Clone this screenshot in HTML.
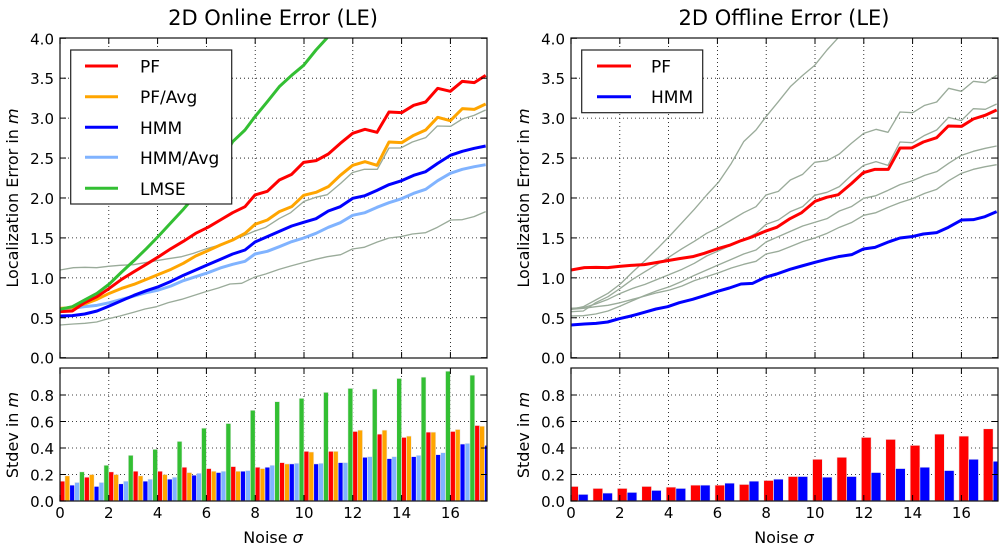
<!DOCTYPE html>
<html><head><meta charset="utf-8"><style>
body{margin:0;background:#fff}
svg{display:block;font-family:"DejaVu Sans","Liberation Sans",sans-serif}
</style></head><body>
<svg id="s" width="999" height="550" viewBox="0 0 999 550" xmlns="http://www.w3.org/2000/svg">
<defs>
<clipPath id="cL"><rect x="60" y="38" width="427" height="320"/></clipPath>
<clipPath id="cR"><rect x="571" y="38" width="427" height="320"/></clipPath>
<clipPath id="bL"><rect x="60" y="368" width="427" height="133"/></clipPath>
<clipPath id="bR"><rect x="571" y="368" width="427" height="133"/></clipPath>
</defs>
<g id="root"></g>
</svg>
<script>
var root=document.getElementById("root");
var H="";
function P(a){return a.map(function(p){return p[0]+","+p[1]}).join(" ")}
var red=[[15,845],[52,843],[89,818],[126,800],[163,775],[200,748],[237,725],[274,703],[311,680],[348,656],[385,634],[422,610],[459,592],[496,570],[533,548],[570,530],[600,495],[637,484],[673,450],[710,433],[746,397],[783,392],[820,372],[856,340],[893,310],[930,298],[966,307],[1002,246],[1040,248],[1076,226],[1112,216],[1148,175],[1186,184],[1222,154],[1258,158],[1292,136]];
var org=[[15,835],[52,833],[89,822],[126,808],[163,790],[200,775],[237,763],[274,748],[311,733],[348,718],[385,700],[422,678],[459,662],[496,645],[533,630],[570,610],[600,583],[637,570],[673,545],[710,530],[746,496],[783,487],[820,470],[856,436],[893,406],[930,395],[966,406],[1002,336],[1040,338],[1076,316],[1112,300],[1148,262],[1186,272],[1222,236],[1258,238],[1292,222]];
var blu=[[15,858],[52,857],[89,852],[126,843],[163,828],[200,812],[237,796],[274,782],[311,770],[348,754],[385,736],[422,720],[459,704],[496,688],[533,672],[570,660],[600,636],[637,620],[673,604],[710,588],[746,577],[783,566],[820,543],[856,530],[893,505],[930,497],[966,481],[1002,464],[1040,452],[1076,436],[1112,425],[1148,400],[1186,376],[1222,364],[1258,355],[1292,348]];
var lbl=[[15,838],[52,835],[89,830],[126,826],[163,818],[200,808],[237,798],[274,788],[311,780],[348,768],[385,752],[422,740],[459,728],[496,714],[533,703],[570,694],[600,672],[637,664],[673,650],[710,635],[746,624],[783,610],[820,592],[856,578],[893,556],[930,548],[966,532],[1002,518],[1040,506],[1076,490],[1112,478],[1148,452],[1186,430],[1222,418],[1258,410],[1292,404]];
var grn=[[15,838],[52,830],[89,810],[126,790],[163,762],[200,726],[237,692],[274,656],[311,618],[348,578],[385,538],[422,495],[459,455],[496,400],[533,335],[570,300],[600,260],[637,215],[673,170],[710,136],[746,106],[783,60],[815,25],[840,-10]];
var ored=[[15,720],[55,713],[90,712],[125,713],[160,709],[195,706],[235,704],[270,698],[305,692],[340,686],[380,680],[415,670],[455,656],[490,646],[525,632],[560,620],[597,604],[632,592],[672,566],[707,548],[747,514],[782,502],[817,494],[857,460],[892,428],[927,418],[967,418],[1002,354],[1037,354],[1072,336],[1112,323],[1147,288],[1187,289],[1222,267],[1257,256],[1292,240]];
var oblu=[[15,885],[55,882],[90,880],[125,876],[160,866],[195,858],[235,847],[270,837],[305,830],[340,818],[380,808],[415,797],[455,784],[490,774],[525,762],[560,760],[597,742],[632,732],[672,718],[707,708],[747,697],[782,688],[817,680],[857,674],[892,657],[927,652],[967,636],[1002,624],[1037,620],[1072,612],[1112,608],[1147,592],[1187,570],[1222,569],[1257,560],[1292,545]];
function pl(a,c,w){return '<polyline points="'+P(a)+'" fill="none" stroke="'+c+'" stroke-width="'+w+'" stroke-linejoin="round"/>'}
var G="#9aab9a";
function axes(x0){
  var s="";
  for(var t=2;t<=16;t+=2){var x=x0+t*24.4;s+='<line x1="'+x+'" y1="38" x2="'+x+'" y2="358" stroke="#000" stroke-width="0.8" stroke-dasharray="1,3"/>';
    s+='<line x1="'+x+'" y1="368" x2="'+x+'" y2="501" stroke="#000" stroke-width="0.8" stroke-dasharray="1,3"/>';}
  for(var k=1;k<8;k++){var y=357.7-k*39.93;s+='<line x1="'+x0+'" y1="'+y+'" x2="'+(x0+427)+'" y2="'+y+'" stroke="#000" stroke-width="0.8" stroke-dasharray="1,3"/>';}
  for(var k=1;k<5;k++){var y=501-k*26.5;s+='<line x1="'+x0+'" y1="'+y+'" x2="'+(x0+427)+'" y2="'+y+'" stroke="#000" stroke-width="0.8" stroke-dasharray="1,3"/>';}
  return s;
}
function frame(x0,title){
  var s='<rect x="'+x0+'" y="38" width="427" height="320" fill="none" stroke="#222" stroke-width="1.3"/>';
  s+='<rect x="'+x0+'" y="368" width="427" height="133" fill="none" stroke="#222" stroke-width="1.3"/>';
  for(var t=0;t<=16;t+=2){var x=x0+t*24.4;
    s+='<text x="'+x+'" y="518" font-size="15" text-anchor="middle">'+t+'</text>';
    s+='<line x1="'+x+'" y1="358" x2="'+x+'" y2="352" stroke="#000"/><line x1="'+x+'" y1="38" x2="'+x+'" y2="44" stroke="#000"/>';
    s+='<line x1="'+x+'" y1="501" x2="'+x+'" y2="495" stroke="#000"/><line x1="'+x+'" y1="368" x2="'+x+'" y2="374" stroke="#000"/>';}
  for(var k=0;k<=8;k++){var y=357.7-k*39.93;s+='<text x="'+(x0-6)+'" y="'+(y+6)+'" font-size="15" text-anchor="end">'+(k/2).toFixed(1)+'</text>';
    s+='<line x1="'+x0+'" y1="'+y+'" x2="'+(x0+6)+'" y2="'+y+'" stroke="#000"/><line x1="'+(x0+427)+'" y1="'+y+'" x2="'+(x0+421)+'" y2="'+y+'" stroke="#000"/>';}
  for(var k=0;k<=4;k++){var y=501-k*26.5;s+='<text x="'+(x0-6)+'" y="'+(y+6)+'" font-size="15" text-anchor="end">'+(k*0.2).toFixed(1)+'</text>';
    s+='<line x1="'+x0+'" y1="'+y+'" x2="'+(x0+6)+'" y2="'+y+'" stroke="#000"/><line x1="'+(x0+427)+'" y1="'+y+'" x2="'+(x0+421)+'" y2="'+y+'" stroke="#000"/>';}
  s+='<text x="'+(x0+213)+'" y="25" font-size="21" text-anchor="middle">'+title+'</text>';
  s+='<text x="'+(x0+213)+'" y="543" font-size="16" text-anchor="middle">Noise <tspan font-style="italic">σ</tspan></text>';
  var lx=x0-42;
  s+='<text transform="translate('+lx+',198) rotate(-90)" font-size="16" text-anchor="middle">Localization Error in <tspan font-style="italic">m</tspan></text>';
  s+='<text transform="translate('+lx+',435) rotate(-90)" font-size="16" text-anchor="middle">Stdev in <tspan font-style="italic">m</tspan></text>';
  return s;
}
H+=axes(60)+axes(571);
H+='<g clip-path="url(#cL)"><g transform="translate(55,30) scale(0.33333)">'+pl(ored,G,4)+pl(oblu,G,4)+pl(lbl,"#80b3ff",9)+pl(blu,"#0000ff",9)+pl(org,"#ffa500",9)+pl(red,"#ff0000",9)+pl(grn,"#33bf33",9)+'</g></g>';
H+='<g clip-path="url(#cR)"><g transform="translate(566,30) scale(0.33333)">'+pl(grn,G,4)+pl(red,G,4)+pl(org,G,4)+pl(blu,G,4)+pl(lbl,G,4)+pl(ored,"#ff0000",9)+pl(oblu,"#0000ff",9)+'</g></g>';
var L=[[0.15,0.19,0.12,0.14,0.22],[0.18,0.20,0.11,0.14,0.27],[0.22,0.20,0.13,0.15,0.345],[0.225,0.19,0.15,0.165,0.39],[0.225,0.20,0.165,0.18,0.45],[0.255,0.215,0.195,0.21,0.55],[0.245,0.225,0.215,0.225,0.585],[0.26,0.225,0.225,0.23,0.685],[0.255,0.245,0.255,0.27,0.75],[0.29,0.28,0.28,0.285,0.775],[0.375,0.37,0.28,0.285,0.82],[0.375,0.375,0.29,0.29,0.85],[0.525,0.535,0.33,0.335,0.845],[0.505,0.535,0.32,0.335,0.925],[0.48,0.49,0.335,0.345,0.935],[0.52,0.52,0.35,0.365,0.98],[0.525,0.54,0.43,0.435,0.95],[0.57,0.565,0.42,0.42,0.9]];
var LC=["#ff0000","#ffa500","#0000ff","#80b3ff","#33bf33"];
var b='<g clip-path="url(#bL)">';
for(var i=0;i<18;i++)for(var k=0;k<5;k++){var x=60+(i+0.2*k)*24.4,h=L[i][k]*132.5;b+='<rect x="'+x+'" y="'+(501-h)+'" width="'+(0.2*24.4)+'" height="'+h+'" fill="'+LC[k]+'" stroke="#eee" stroke-width="0.6"/>';}
b+='</g><g clip-path="url(#bR)">';
var R=[[0.11,0.05],[0.095,0.06],[0.095,0.065],[0.11,0.08],[0.105,0.095],[0.12,0.12],[0.12,0.135],[0.125,0.15],[0.155,0.165],[0.185,0.185],[0.315,0.18],[0.33,0.185],[0.48,0.215],[0.465,0.245],[0.42,0.255],[0.505,0.23],[0.49,0.315],[0.545,0.30]];
for(var i=0;i<18;i++)for(var k=0;k<2;k++){var x=571+(i-0.1+0.4*k)*24.4,h=R[i][k]*132.5;b+='<rect x="'+x+'" y="'+(501-h)+'" width="'+(0.4*24.4)+'" height="'+h+'" fill="'+(k?"#0000ff":"#ff0000")+'" stroke="#eee" stroke-width="0.6"/>';}
b+='</g>';
H+=b;
H+=frame(60,"2D Online Error (LE)")+frame(571,"2D Offline Error (LE)");
var lg='<rect x="70.7" y="50" width="161" height="154" fill="#fff" stroke="#222" stroke-width="1.2"/>';
var names=["PF","PF/Avg","HMM","HMM/Avg","LMSE"],cols=["#ff0000","#ffa500","#0000ff","#80b3ff","#33bf33"],ys=[66,96.7,127.3,157.3,188.3];
for(var i=0;i<5;i++){lg+='<line x1="85" y1="'+ys[i]+'" x2="118" y2="'+ys[i]+'" stroke="'+cols[i]+'" stroke-width="3"/><text x="140" y="'+(ys[i]+6.5)+'" font-size="17">'+names[i]+'</text>';}
lg+='<rect x="581.7" y="50" width="121" height="62.7" fill="#fff" stroke="#222" stroke-width="1.2"/>';
lg+='<line x1="597" y1="66" x2="631" y2="66" stroke="#ff0000" stroke-width="3"/><text x="651" y="72.5" font-size="17">PF</text>';
lg+='<line x1="597" y1="96.7" x2="631" y2="96.7" stroke="#0000ff" stroke-width="3"/><text x="651" y="103" font-size="17">HMM</text>';
H+=lg;
root.innerHTML=H;
</script>
</body></html>
